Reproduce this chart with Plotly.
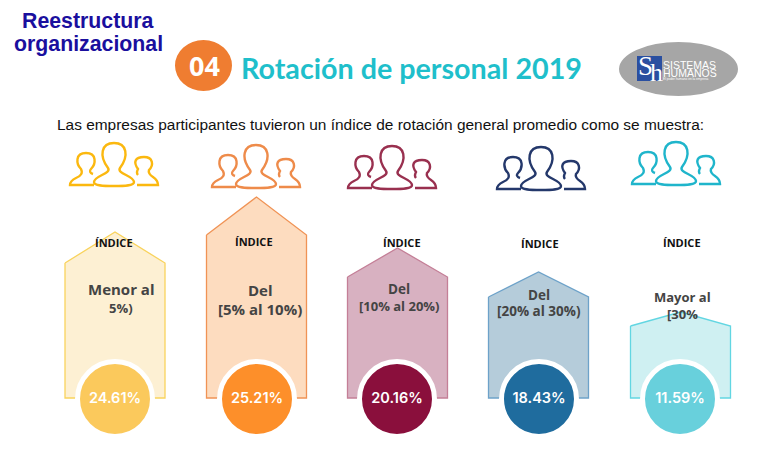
import plotly.graph_objects as go

# values
rates = [24.61, 25.21, 20.16, 18.43, 11.59]
range_line1 = ["Menor al", "Del", "Del", "Del", "Mayor al"]
range_line2 = ["5%)", "[5% al 10%)", "[10% al 20%)", "[20% al 30%)", "[30%"]
house_heights = [166, 201, 150, 126, 86]
roof_heights = [31, 38, 29, 25, 14]

# layout of the columns, in page pixels
centers = [115, 256.5, 397.5, 538.5, 680.5]
base_y = 398
half_w = 50
circle_x = [115, 257, 397, 539, 680]
icon_x = [114, 256, 392, 541, 676]
icon_y = [142, 144, 145, 146, 141]
indice_x = [114, 254, 402, 540, 682]
indice_y = [242, 241, 242, 243, 242]
label_x = [121, 260, 399, 539, 682]
label1_y = [289, 290, 289, 295, 297]
label2_y = [308, 309, 306, 311, 314]
label1_size = [15, 15, 13.5, 13.5, 13]
label2_size = [13, 15, 13, 13.5, 13]

house_fill = ["#FDF0D3", "#FDDCBF", "#D8B1C1", "#B5CCDA", "#CFF0F2"]
house_line = ["#F9D35C", "#F09355", "#C47F97", "#6DA2C9", "#62D6E2"]
circle_col = ["#FBC95C", "#FD8F2A", "#8A0F3C", "#1F6C9E", "#68D0DC"]
icon_col = ["#FBB80F", "#EE8B4A", "#99304F", "#24386B", "#1FB5CB"]


def person_paths(cx, top):
    # icon outline, offsets from the middle of the icon
    parts = [
        "M -6,26 C -15,14 -13,1 0,1 C 13,1 15,14 6,26 C 4,29 8,31 12,33 C 18,36 20,38 20,40 "
        "C 20,44 10,44 0,44 C -10,44 -20,44 -20,40 C -20,38 -18,36 -12,33 C -8,31 -4,29 -6,26 Z",
        "M -21,32 C -24,31 -25,29 -23,27 C -18,22 -17,11 -28,11 C -39,11 -38,22 -33,27 "
        "C -31,31 -33,34 -38,36 C -42,38 -44,40 -44,43 L -20,43",
        "M 24,33 C 22,31 23,29 24,27 C 19,20 21,15 30,15 C 39,15 40,23 35,28 "
        "C 34,31 36,33 39,35 C 42,37 44,40 44,43 L 23,43",
    ]
    out = []
    for p in parts:
        toks = []
        for t in p.split():
            if "," in t:
                a, b = t.split(",")
                toks.append(f"{float(a) + cx},{float(b) + top}")
            else:
                toks.append(t)
        out.append(" ".join(toks))
    return out


fig = go.Figure()

# houses
for i in range(5):
    c = centers[i]
    top = base_y - house_heights[i]
    sh = top + roof_heights[i]
    fig.add_trace(go.Scatter(
        x=[c - half_w, c, c + half_w, c + half_w, c - half_w, c - half_w],
        y=[sh, top, sh, base_y, base_y, sh],
        mode="lines", fill="toself", fillcolor=house_fill[i],
        line=dict(color=house_line[i], width=1.3),
        hoverinfo="skip", showlegend=False,
    ))

# circles with the rates
fig.add_trace(go.Scatter(
    x=circle_x, y=[399] * 5, mode="markers+text",
    marker=dict(size=75, color=circle_col, line=dict(color="white", width=5)),
    text=[f"{r:.2f}%" for r in rates], textposition="middle center",
    textfont=dict(family="Inter", size=14.5, color="white", weight=600),
    hoverinfo="skip", showlegend=False,
))

shapes = []
for i in range(5):
    for p in person_paths(icon_x[i], icon_y[i]):
        shapes.append(dict(type="path", path=p, xref="x", yref="y",
                           line=dict(color=icon_col[i], width=2.4)))

# 04 badge and logo
shapes.append(dict(type="circle", xref="x", yref="y", x0=175, x1=232, y0=40, y1=91,
                   fillcolor="#EF7D31", line=dict(width=0)))
shapes.append(dict(type="circle", xref="x", yref="y", x0=619, x1=738, y0=42, y1=96,
                   fillcolor="#A6A6A6", line=dict(width=0)))
shapes.append(dict(type="rect", xref="x", yref="y", x0=637, x1=662, y0=56, y1=81,
                   fillcolor="#2A4FA0", line=dict(width=0)))


def label(x, y, text, size, color, family="Open Sans", bold=True, anchor="center"):
    fig.add_annotation(x=x, y=y, text=f"<b>{text}</b>" if bold else text, showarrow=False,
                       xanchor=anchor, yanchor="middle",
                       font=dict(family=family, size=size, color=color))


label(88, 21, "Reestructura", 21.3, "#1A0F9E", "Liberation Sans")
label(88, 44, "organizacional", 21.3, "#1A0F9E", "Liberation Sans")
label(204, 65, "04", 27, "white", "Open Sans")
label(239, 68, "Rotación de personal 2019", 28.7, "#1FBFCB", "Lato", anchor="left")
label(54.5, 124, "Las empresas participantes tuvieron un índice de rotación general promedio como se muestra:",
      15.45, "#111111", "Liberation Sans", bold=False, anchor="left")

label(645, 66, "S", 27, "white", "Liberation Serif", bold=False)
label(656, 72, "h", 26, "white", "Liberation Serif", bold=False)
label(661, 65, "SISTEMAS", 10.5, "white", "Liberation Sans", bold=False, anchor="left")
label(661, 73, "HUMANOS", 10.5, "white", "Liberation Sans", bold=False, anchor="left")
label(661, 79, "El poder humano en la empresa", 3.2, "white", "Liberation Sans", bold=False, anchor="left")

for i in range(5):
    label(indice_x[i], indice_y[i], "ÍNDICE", 11, "#111111")
    label(label_x[i], label1_y[i], range_line1[i], label1_size[i], "#444444")
    label(label_x[i], label2_y[i], range_line2[i], label2_size[i], "#444444")

fig.update_layout(
    width=768, height=454, margin=dict(l=0, r=0, t=0, b=0),
    paper_bgcolor="white", plot_bgcolor="white", shapes=shapes,
    xaxis=dict(range=[0, 768], visible=False, fixedrange=True),
    yaxis=dict(range=[454, 0], visible=False, fixedrange=True),
)

# the page's default body margin would push everything 8px off
fig.write_html("out.html", config=dict(displayModeBar=False),
               post_script="document.body.style.margin='0';")
